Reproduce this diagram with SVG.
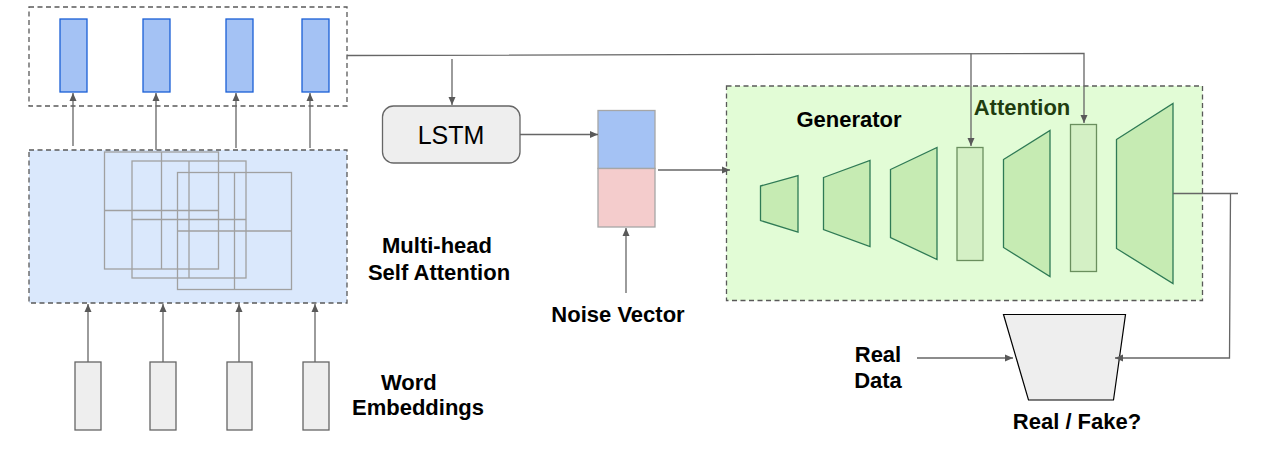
<svg xmlns="http://www.w3.org/2000/svg" width="1266" height="449" viewBox="0 0 1266 449">
<style>
.lbl{font-family:"Liberation Sans",Arial,sans-serif;font-weight:bold;font-size:22px;fill:#000}
.dash{stroke:#595959;stroke-width:1.3;stroke-dasharray:5,3.5}
.bar{fill:#a4c2f4;stroke:#1a5fd6;stroke-width:1.3}
.emb{fill:#eeeeee;stroke:#666;stroke-width:1.3}
.grid{fill:none;stroke:#a0a0a0;stroke-width:1.3}
.trap{fill:#c6ebb3;stroke:#2f7a55;stroke-width:1.3}
.attn{fill:#d4f0c5;stroke:#6a8f5e;stroke-width:1.3}
.conn{fill:none;stroke:#666;stroke-width:1.3}
</style>
<defs>
<marker id="ah" markerUnits="userSpaceOnUse" markerWidth="9" markerHeight="8" refX="8" refY="4" orient="auto">
<path d="M0,0.5 L8,4 L0,7.5 z" fill="#595959"/>
</marker>
</defs>

<g id="top-outputs">
<rect x="29" y="7" width="318" height="99" fill="#fff" class="dash"/>
<rect class="bar" x="60" y="19" width="27" height="73"/>
<rect class="bar" x="143" y="19" width="27" height="73"/>
<rect class="bar" x="226" y="19" width="27" height="73"/>
<rect class="bar" x="302" y="19" width="27" height="73"/>
</g>

<g id="self-attention">
<rect x="29" y="150" width="318" height="153" fill="#dae8fc" class="dash"/>
<rect class="grid" x="104.5" y="152" width="114" height="117"/>
<line class="grid" x1="161.5" y1="152" x2="161.5" y2="269"/>
<line class="grid" x1="104.5" y1="210.5" x2="218.5" y2="210.5"/>
<rect class="grid" x="132" y="161" width="114" height="117"/>
<line class="grid" x1="189" y1="161" x2="189" y2="278"/>
<line class="grid" x1="132" y1="219.5" x2="246" y2="219.5"/>
<rect class="grid" x="177.5" y="172.5" width="114" height="117"/>
<line class="grid" x1="234.5" y1="172.5" x2="234.5" y2="289.5"/>
<line class="grid" x1="177.5" y1="231" x2="291.5" y2="231"/>
<text class="lbl" x="437" y="253" text-anchor="middle">Multi-head</text>
<text class="lbl" x="439" y="280" text-anchor="middle">Self Attention</text>
</g>

<g id="word-embeddings">
<rect class="emb" x="75" y="362" width="26" height="68"/>
<rect class="emb" x="150" y="362" width="26" height="68"/>
<rect class="emb" x="227" y="362" width="25" height="68"/>
<rect class="emb" x="303" y="362" width="26" height="68"/>
<text class="lbl" x="381" y="390">Word</text>
<text class="lbl" x="352" y="415">Embeddings</text>
</g>

<g id="lstm">
<rect x="382.5" y="106" width="137.5" height="57" rx="11" ry="11" fill="#eeeeee" stroke="#666" stroke-width="1.3"/>
<text x="451" y="144" text-anchor="middle" font-family="'Liberation Sans',Arial,sans-serif" font-size="25" fill="#000">LSTM</text>
</g>

<g id="noise-vector">
<rect x="598" y="110.5" width="57" height="58" fill="#a4c2f4" stroke="#a6a6a6" stroke-width="1.3"/>
<rect x="598" y="168.5" width="57" height="58.5" fill="#f4cccc" stroke="#a6a6a6" stroke-width="1.3"/>
<text class="lbl" x="618" y="322" text-anchor="middle">Noise Vector</text>
</g>

<g id="generator">
<rect x="726.5" y="86" width="476" height="214.5" fill="#e2fcd6" class="dash"/>
<polygon class="trap" points="760.5,186 798,175.5 798,232 760.5,220.5"/>
<polygon class="trap" points="823.5,177.5 870,160.5 870,246.5 823.5,229.5"/>
<polygon class="trap" points="890.5,169.5 937,147.5 937,259.5 890.5,237.5"/>
<rect class="attn" x="957" y="147.5" width="26" height="113"/>
<polygon class="trap" points="1003.5,159.5 1050,130.5 1050,276.5 1003.5,247.5"/>
<rect class="attn" x="1070.5" y="124.5" width="26" height="147"/>
<polygon class="trap" points="1116.5,139.5 1173,103.5 1173,283.5 1116.5,248.5"/>
<text class="lbl" x="849" y="127" text-anchor="middle">Generator</text>
<text class="lbl" x="1022" y="115" text-anchor="middle" style="fill:#1f3d10">Attention</text>
</g>

<g id="discriminator">
<polygon points="1003.5,314.5 1125.5,314.5 1113.5,400 1028.5,400" fill="#eeeeee" stroke="#000" stroke-width="1.2"/>
<text class="lbl" x="1077" y="429" text-anchor="middle">Real / Fake?</text>
</g>

<g id="real-data">
<text class="lbl" x="878" y="362" text-anchor="middle">Real</text>
<text class="lbl" x="878" y="388" text-anchor="middle">Data</text>
</g>

<g id="connectors">
<line class="conn" x1="73" y1="146" x2="73" y2="93" marker-end="url(#ah)"/>
<line class="conn" x1="156" y1="150" x2="156" y2="93" marker-end="url(#ah)"/>
<line class="conn" x1="236" y1="148" x2="236" y2="93" marker-end="url(#ah)"/>
<line class="conn" x1="310" y1="148" x2="310" y2="93" marker-end="url(#ah)"/>
<line class="conn" x1="88" y1="362" x2="88" y2="304" marker-end="url(#ah)"/>
<line class="conn" x1="163" y1="362" x2="163" y2="304" marker-end="url(#ah)"/>
<line class="conn" x1="239" y1="362" x2="239" y2="304" marker-end="url(#ah)"/>
<line class="conn" x1="315" y1="362" x2="315" y2="304" marker-end="url(#ah)"/>
<polyline class="conn" points="347,55.5 1084,53.5 1084,123" marker-end="url(#ah)"/>
<line class="conn" x1="971" y1="53.5" x2="971" y2="146" marker-end="url(#ah)"/>
<line class="conn" x1="452" y1="59" x2="452" y2="105" marker-end="url(#ah)"/>
<line class="conn" x1="520" y1="134.5" x2="598" y2="134.5" marker-end="url(#ah)"/>
<line class="conn" x1="658" y1="170" x2="730" y2="170" marker-end="url(#ah)"/>
<line class="conn" x1="626" y1="293" x2="626" y2="228" marker-end="url(#ah)"/>
<line class="conn" x1="1173" y1="193.5" x2="1238" y2="193.5"/>
<polyline class="conn" points="1230.5,193.5 1229.5,358 1115,358" marker-end="url(#ah)"/>
<line class="conn" x1="917" y1="358" x2="1013" y2="358" marker-end="url(#ah)"/>
</g>
</svg>
